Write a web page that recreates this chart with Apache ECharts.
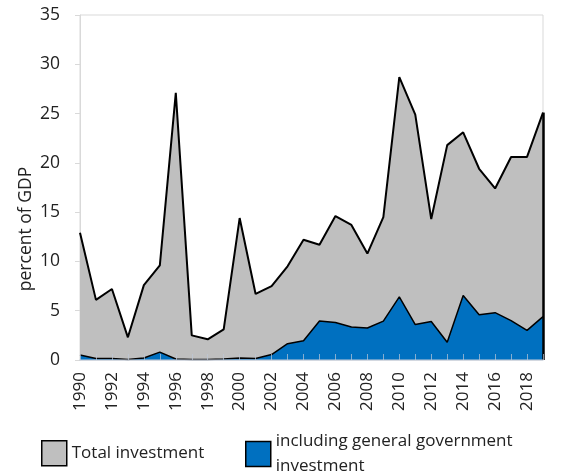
<!DOCTYPE html>
<html>
<head>
<meta charset="utf-8">
<script src="https://cdn.jsdelivr.net/npm/echarts@6/dist/echarts.min.js"></script>
<style>
  html, body { margin: 0; padding: 0; background: #fff; }
  #chart { width: 569px; height: 471px; }
</style>
</head>
<body>
<div id="chart"></div>
<script>
// years on the x axis
const years = ['1990', '1991', '1992', '1993', '1994', '1995', '1996', '1997', '1998', '1999',
  '2000', '2001', '2002', '2003', '2004', '2005', '2006', '2007', '2008', '2009',
  '2010', '2011', '2012', '2013', '2014', '2015', '2016', '2017', '2018', '2019'];
// total investment, percent of GDP
const totalInvestment = [12.9, 6.1, 7.2, 2.3, 7.6, 9.6, 27.1, 2.5, 2.1, 3.1,
  14.4, 6.7, 7.5, 9.5, 12.2, 11.7, 14.6, 13.7, 10.8, 14.5,
  28.7, 24.9, 14.3, 21.8, 23.1, 19.4, 17.4, 20.6, 20.6, 25.1];
// of which general government investment
const govInvestment = [0.5, 0.15, 0.15, 0.05, 0.2, 0.8, 0.1, 0.05, 0.05, 0.1,
  0.2, 0.15, 0.55, 1.65, 1.95, 3.95, 3.8, 3.35, 3.25, 3.95,
  6.4, 3.6, 3.9, 1.8, 6.55, 4.6, 4.8, 4.0, 3.0, 4.4];

const seriesNames = ['Total investment', 'including general government investment'];
const yTitle = 'percent of GDP';

const chart = echarts.init(document.getElementById('chart'));
const font = 'Open Sans';
const lastYear = years[years.length - 1];

const option = {
  animation: false,
  grid: {
    left: 80, right: 26, top: 15, bottom: 111,
    show: true, borderColor: '#d9d9d9', borderWidth: 1
  },
  // y axis title sits a bit below the axis middle, as in the original
  graphic: [{
    type: 'text',
    x: 26, y: 229,
    rotation: Math.PI / 2,
    style: {
      text: yTitle,
      fontSize: 17.5, fontFamily: font, fill: '#222',
      align: 'center', verticalAlign: 'middle'
    }
  }],
  xAxis: {
    type: 'category',
    data: years,
    boundaryGap: false,
    z: 5,
    axisLine: { lineStyle: { color: 'rgba(190,200,215,0.7)', width: 1.5 } },
    axisTick: { show: true, inside: true, interval: 0, length: 6,
      lineStyle: { color: 'rgba(190,200,215,0.7)' } },
    axisLabel: { interval: 1, rotate: 90, fontSize: 17, color: '#222', fontFamily: font, margin: 12 },
    splitLine: { show: false }
  },
  yAxis: {
    type: 'value',
    min: 0, max: 35, interval: 5,
    axisLine: { show: true, lineStyle: { color: '#d9d9d9' } },
    axisTick: { show: true, length: 5, lineStyle: { color: '#d9d9d9' } },
    axisLabel: { fontSize: 17.5, color: '#222', fontFamily: font, margin: 20 },
    splitLine: { show: false }
  },
  legend: [
    {
      data: [seriesNames[0]],
      left: 36, top: 435,
      icon: 'rect',
      itemWidth: 25, itemHeight: 25,
      textStyle: { fontSize: 17, color: '#222', fontFamily: font },
      itemStyle: { borderColor: '#000', borderWidth: 1.5 }
    },
    {
      data: [seriesNames[1]],
      left: 240, top: 424,
      icon: 'rect',
      itemWidth: 25, itemHeight: 25,
      textStyle: { fontSize: 17, color: '#222', fontFamily: font, lineHeight: 25 },
      formatter: function () { return 'including general government\ninvestment'; },
      itemStyle: { borderColor: '#000', borderWidth: 1.5 }
    }
  ],
  series: [
    {
      name: seriesNames[0],
      type: 'line',
      data: totalInvestment,
      symbol: 'none',
      z: 2,
      lineStyle: { color: '#000', width: 2 },
      itemStyle: { color: '#bfbfbf' },
      areaStyle: { color: '#bfbfbf', opacity: 1 },
      markLine: {
        symbol: 'none',
        silent: true,
        label: { show: false },
        lineStyle: { color: '#000', width: 2.5, type: 'solid' },
        data: [[
          { coord: [lastYear, 0] },
          { coord: [lastYear, totalInvestment[totalInvestment.length - 1]] }
        ]]
      }
    },
    {
      name: seriesNames[1],
      type: 'line',
      data: govInvestment,
      symbol: 'none',
      z: 3,
      lineStyle: { color: '#000', width: 1.5 },
      itemStyle: { color: '#0070c0' },
      areaStyle: { color: '#0070c0', opacity: 1 }
    }
  ]
};

chart.setOption(option);
</script>
</body>
</html>
